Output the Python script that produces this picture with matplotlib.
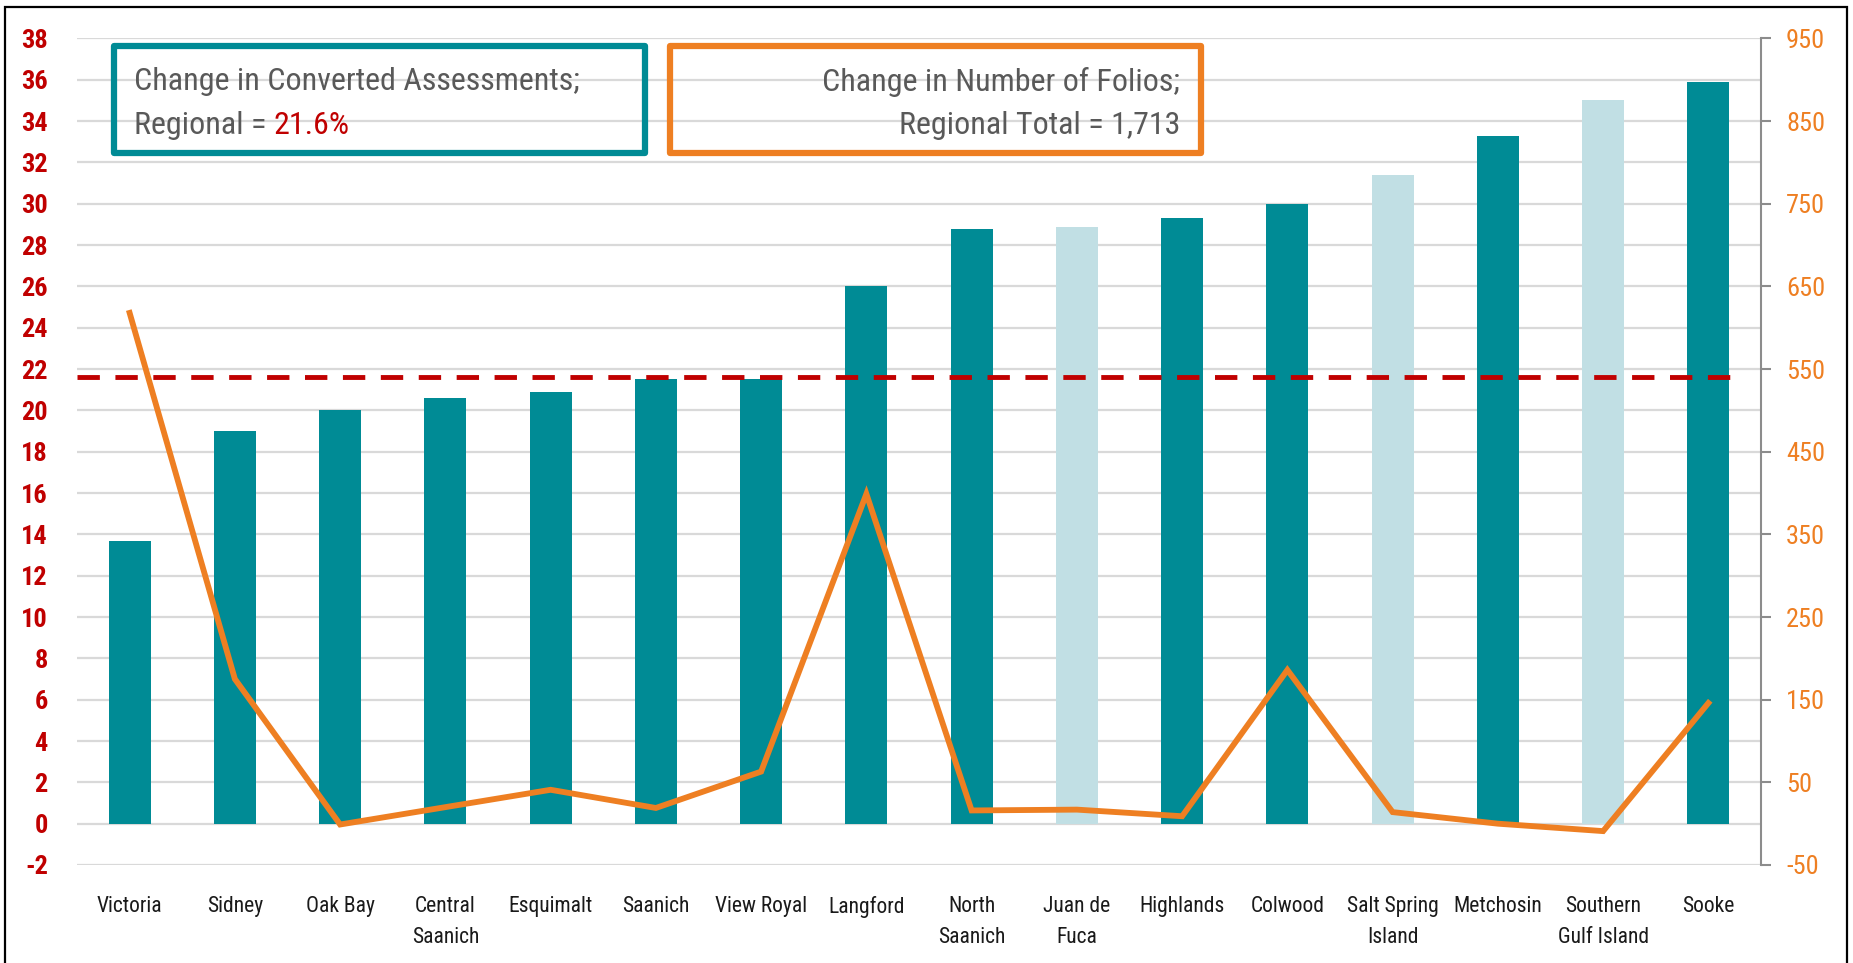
import matplotlib.pyplot as plt
from matplotlib.patches import Rectangle

plt.rcParams['font.family'] = ['Roboto Condensed', 'Lato', 'DejaVu Sans']
plt.rcParams['axes.unicode_minus'] = False

# Municipalities, sorted by assessment change
areas = ['Victoria', 'Sidney', 'Oak Bay', 'Central\nSaanich', 'Esquimalt', 'Saanich',
         'View Royal', 'Langford', 'North\nSaanich', 'Juan de\nFuca', 'Highlands',
         'Colwood', 'Salt Spring\nIsland', 'Metchosin', 'Southern\nGulf Island', 'Sooke']
# % change in converted assessments (left axis)
assess_change = [13.7, 19.0, 20.0, 20.6, 20.9, 21.5, 21.5, 26.0, 28.8, 28.9,
                 29.3, 30.0, 31.4, 33.3, 35.0, 35.9]
# electoral areas are drawn in the lighter shade
electoral_area = [False, False, False, False, False, False, False, False, False, True,
                  False, False, True, False, True, False]
# change in number of folios (right axis)
folio_change = [618, 175, -1, 20, 41, 19, 63, 399, 16, 17, 9, 186, 14, 0, -9, 146]
regional_pct = 21.6
regional_total = 1713

teal = '#008B95'
light = '#C1DFE4'
orange = '#EE7F22'
red = '#C00000'

W, H = 1853, 963
fig = plt.figure(figsize=(W / 100, H / 100), dpi=100)
ax = fig.add_axes([77 / W, 1 - 865 / H, (1761 - 77) / W, (865 - 38.5) / H])
ax2 = ax.twinx()

x = list(range(len(areas)))
colors = [light if e else teal for e in electoral_area]
ax.bar(x, assess_change, width=0.4, color=colors, zorder=2)
ax.plot([-0.5, 15.25], [regional_pct, regional_pct], color=red, lw=3.5,
        dashes=(4.6, 3.2), zorder=3)

ax.set_xlim(-0.5, len(areas) - 0.5)
ax.set_ylim(-2, 38)
ax.set_yticks(range(-2, 39, 2))
ax.grid(axis='y', color='#D9D9D9', lw=1.6)
ax.set_axisbelow(True)
ax.set_xticks(x)
ax.set_xticklabels(areas, fontsize=15.5, color='#1A1A1A', linespacing=1.66)
ax.tick_params(axis='x', length=0, pad=22)
ax.tick_params(axis='y', length=0, pad=21, labelsize=19, labelcolor=red)
for lab in ax.get_yticklabels():
    lab.set_fontweight('bold')
for s in ax.spines.values():
    s.set_visible(False)

ax2.plot(x, folio_change, color=orange, lw=4.2, solid_joinstyle='miter', zorder=4)
ax2.set_ylim(-50, 950)
ax2.set_yticks(range(-50, 951, 100))
ax2.tick_params(axis='y', length=7, width=1.5, color='#8C8C8C', pad=11,
                labelsize=19, labelcolor=orange)
for name, s in ax2.spines.items():
    s.set_visible(name == 'right')
ax2.spines['right'].set_color('#8C8C8C')
ax2.spines['right'].set_linewidth(1.5)

# summary boxes
def fig_box(x0, y0, x1, y1, color):
    fig.add_artist(Rectangle((x0 / W, 1 - y1 / H), (x1 - x0) / W, (y1 - y0) / H,
                             transform=fig.transFigure, fill=False, edgecolor=color,
                             lw=4.5, joinstyle='round', zorder=10))

fig_box(114, 46, 645, 153, teal)
fig_box(670, 46, 1201, 153, orange)

gray = '#595959'
fs = 23
fig.text(134 / W, 1 - 82 / H, 'Change in Converted Assessments;', fontsize=fs,
         color=gray, va='center', ha='left')
t = fig.text(134 / W, 1 - 125 / H, 'Regional = ', fontsize=fs, color=gray,
             va='center', ha='left')
fig.canvas.draw()
bb = t.get_window_extent()
fig.text(bb.x1 / W, 1 - 125 / H, f'{regional_pct}%', fontsize=fs, color=red,
         va='center', ha='left')
fig.text(1180 / W, 1 - 82 / H, 'Change in Number of Folios;', fontsize=fs,
         color=gray, va='center', ha='right')
fig.text(1180 / W, 1 - 125 / H, f'Regional Total = {regional_total:,}', fontsize=fs,
         color=gray, va='center', ha='right')

# outer frame
fig.add_artist(Rectangle((5 / W, -0.05), (1847 - 5) / W, 1.05 - 7 / H,
                         transform=fig.transFigure, fill=False, edgecolor='black',
                         lw=1.6, zorder=11))

fig.savefig('out.png', dpi=100)
